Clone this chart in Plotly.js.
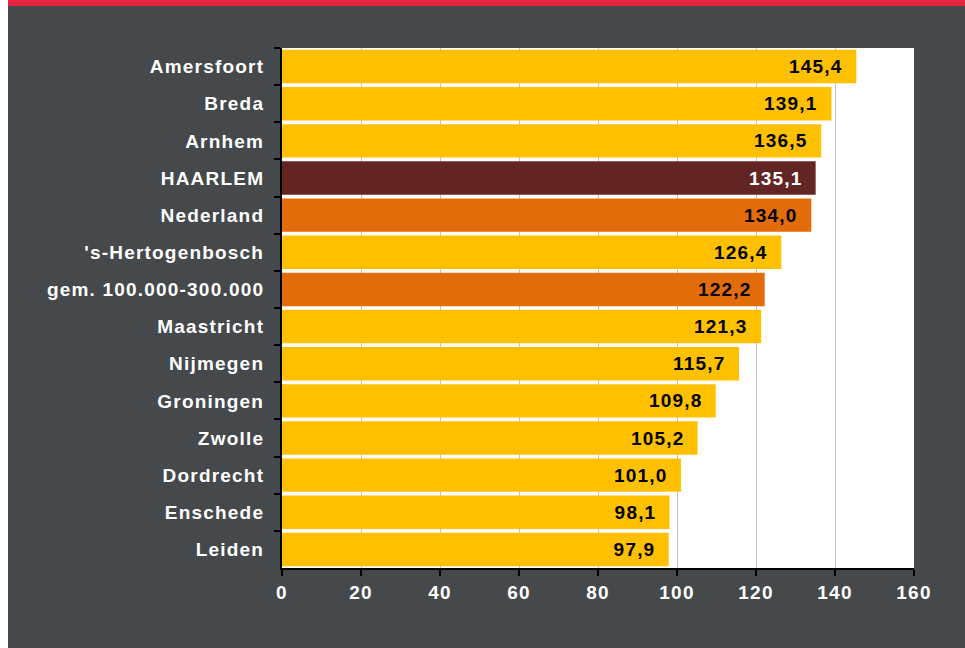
<!DOCTYPE html>
<html>
<head>
<meta charset="utf-8">
<script src="https://cdn.plot.ly/plotly-3.0.1.min.js"></script>
<style>
html, body { margin:0; padding:0; background:#ffffff; }
#chart { position:absolute; left:8px; top:0; width:957px; height:642px; border-top:6px solid #e3233f; background:#45494b; }
#chart svg text { letter-spacing: 1.2px; }
</style>
</head>
<body>
<div id="chart"></div>
<script>
const categories = ["Amersfoort","Breda","Arnhem","HAARLEM","Nederland","'s-Hertogenbosch","gem. 100.000-300.000","Maastricht","Nijmegen","Groningen","Zwolle","Dordrecht","Enschede","Leiden"];
const values = [145.4,139.1,136.5,135.1,134.0,126.4,122.2,121.3,115.7,109.8,105.2,101.0,98.1,97.9];
const groups = ["city","city","city","haarlem","ref","city","ref","city","city","city","city","city","city","city"];
const xTicks = [0,20,40,60,80,100,120,140,160];

const colorOf = {city:"#ffc000", haarlem:"#632523", ref:"#e36c0a"};
const textColorOf = {city:"#000000", haarlem:"#ffffff", ref:"#000000"};
const fmt = v => v.toFixed(1).replace('.', ',');

const trace = {
  type: 'bar',
  orientation: 'h',
  y: categories,
  x: values,
  marker: { color: groups.map(g => colorOf[g]), line: {width:0} },
  hoverinfo: 'none'
};

const annotations = categories.map((c, i) => ({
  x: values[i], y: c, xref: 'x', yref: 'y',
  text: fmt(values[i]), showarrow: false,
  xanchor: 'right', yanchor: 'middle', xshift: -14,
  font: { family: 'Liberation Sans, Arial, sans-serif', size: 19, weight: 700, color: textColorOf[groups[i]] }
}));

const layout = {
  width: 957, height: 642,
  margin: { l: 274, r: 51, t: 42, b: 80 },
  paper_bgcolor: '#45494b',
  plot_bgcolor: '#ffffff',
  showlegend: false,
  bargap: 0.1,
  font: { family: 'Liberation Sans, Arial, sans-serif', size: 19, weight: 700, color: '#ffffff' },
  xaxis: {
    range: [0, 160], tickvals: xTicks, ticktext: xTicks.map(String),
    showgrid: true, gridcolor: '#c3c3c3', gridwidth: 1,
    zeroline: false, showline: true, linecolor: '#000000', linewidth: 2,
    ticks: 'outside', ticklen: 6, tickcolor: '#000000', tickwidth: 2,
    tickfont: { family: 'Liberation Sans, Arial, sans-serif', size: 19, weight: 700, color: '#ffffff' },
    fixedrange: true
  },
  yaxis: {
    type: 'category', autorange: 'reversed',
    showline: true, linecolor: '#000000', linewidth: 2,
    ticks: 'outside', tickson: 'boundaries', ticklen: 6, tickcolor: '#000000', tickwidth: 2,
    showgrid: false,
    tickfont: { family: 'Liberation Sans, Arial, sans-serif', size: 19, weight: 700, color: '#ffffff' },
    ticklabelstandoff: 12,
    fixedrange: true
  },
  annotations: annotations
};

Plotly.newPlot('chart', [trace], layout, { displayModeBar: false, staticPlot: true });
</script>
</body>
</html>
